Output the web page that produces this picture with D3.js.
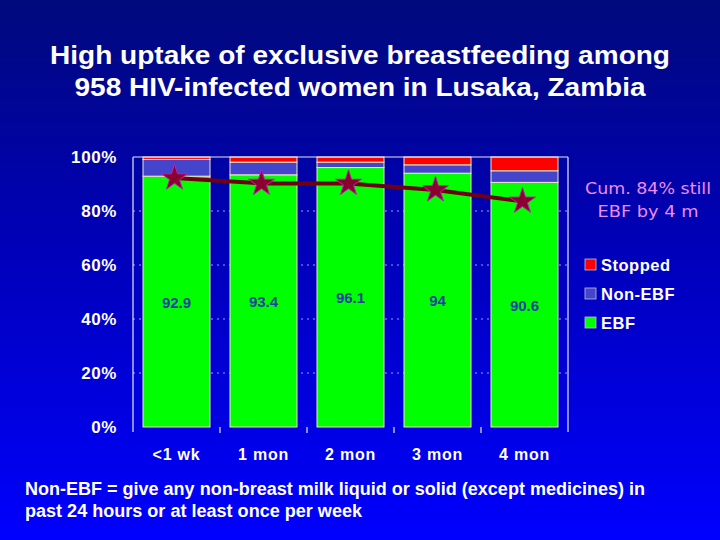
<!DOCTYPE html>
<html><head><meta charset="utf-8">
<script src="https://cdn.jsdelivr.net/npm/d3@7"></script>
<style>body{margin:0;padding:0;overflow:hidden}svg{display:block}</style>
</head><body>
<svg id="chart" width="720" height="540"></svg>
<script>
const categories = ["<1 wk", "1 mon", "2 mon", "3 mon", "4 mon"];
const ebf = [92.9, 93.4, 96.1, 94, 90.6];
const nonEbf = [6.2, 4.7, 2.0, 3.1, 4.3];
const stopped = [0.9, 1.9, 1.9, 2.9, 5.1];
const cumulative = [92.2, 90.2, 90.2, 87.8, 83.6];
const yTicks = [0, 20, 40, 60, 80, 100];
const seriesNames = ["EBF", "Non-EBF", "Stopped"];
const seriesColors = ["#00ff00", "#4444cc", "#ff0000"];

const svg = d3.select("#chart");
const defs = svg.append("defs");
const grad = defs.append("linearGradient").attr("id","bg").attr("x1",0).attr("y1",0).attr("x2",0).attr("y2",1);
grad.append("stop").attr("offset","0%").attr("stop-color","#000a7c");
grad.append("stop").attr("offset","45%").attr("stop-color","#0000b8");
grad.append("stop").attr("offset","100%").attr("stop-color","#0000ff");
svg.append("rect").attr("width",720).attr("height",540).attr("fill","url(#bg)");

const FONT = "Liberation Sans, Arial, sans-serif";

// Title
const title = svg.append("text").attr("text-anchor","middle")
  .attr("font-family",FONT).attr("font-weight","bold")
  .attr("font-size",25).attr("fill","#ffffff");
title.append("tspan").attr("x",360).attr("y",64).attr("textLength",620).attr("lengthAdjust","spacingAndGlyphs")
  .text("High uptake of exclusive breastfeeding among");
title.append("tspan").attr("x",360).attr("y",96).attr("textLength",571).attr("lengthAdjust","spacingAndGlyphs")
  .text("958 HIV-infected women in Lusaka, Zambia");

const pLeft = 133, pRight = 568, pTop = 157, pBottom = 427;
const x = d3.scaleBand().domain(categories).range([pLeft, pRight]).paddingInner(0.23).paddingOuter(0.115);
const y = d3.scaleLinear().domain([0, 100]).range([pBottom, pTop]);

// gridlines
svg.append("g").selectAll("line").data(yTicks.filter(t => t > 0 && t < 100)).join("line")
  .attr("x1", pLeft).attr("x2", pRight).attr("y1", d => y(d)).attr("y2", d => y(d))
  .attr("stroke", "#c8c8ff").attr("stroke-width", 1).attr("stroke-dasharray", "2,4").attr("opacity",0.8);

// stacked bars
const rows = categories.map((c, i) => ({cat: c, EBF: ebf[i], "Non-EBF": nonEbf[i], Stopped: stopped[i]}));
const stack = d3.stack().keys(seriesNames)(rows);
const color = d3.scaleOrdinal().domain(seriesNames).range(seriesColors);
svg.append("g").selectAll("g").data(stack).join("g").attr("fill", d => color(d.key))
  .selectAll("rect").data(d => d).join("rect")
  .attr("x", d => x(d.data.cat)).attr("width", x.bandwidth())
  .attr("y", d => y(Math.min(d[1],100))).attr("height", d => y(d[0]) - y(Math.min(d[1],100)))
  .attr("stroke", "#f0e8c0").attr("stroke-width", 1);

// frame: left axis, top line, right line
const frame = svg.append("g").attr("stroke","#e8e8f0").attr("stroke-width",1.2);
frame.append("line").attr("x1",pLeft).attr("x2",pLeft).attr("y1",pTop).attr("y2",pBottom+5);
frame.append("line").attr("x1",pRight).attr("x2",pRight).attr("y1",pTop).attr("y2",pBottom+5);
frame.append("line").attr("x1",pLeft).attr("x2",pRight).attr("y1",pTop).attr("y2",pTop);

// x ticks between bands
const step = x.step();
svg.append("g").selectAll("line").data(categories.slice(1)).join("line")
  .attr("x1", d => x(d) - x.paddingInner()*step/2).attr("x2", d => x(d) - x.paddingInner()*step/2)
  .attr("y1", pBottom).attr("y2", pBottom+6).attr("stroke","#e8e8f0").attr("stroke-width",1.2);

// y tick labels
svg.append("g").selectAll("text").data(yTicks).join("text")
  .attr("x", 117).attr("y", d => y(d) + 6).attr("text-anchor","end")
  .attr("font-family",FONT).attr("font-weight","bold")
  .attr("font-size",17).attr("letter-spacing",0.6).attr("fill","#ffffff").text(d => d + "%");

// x labels
svg.append("g").selectAll("text").data(categories).join("text")
  .attr("x", d => x(d) + x.bandwidth()/2).attr("y", 460).attr("text-anchor","middle")
  .attr("font-family",FONT).attr("font-weight","bold")
  .attr("font-size",16).attr("letter-spacing",0.8).attr("fill","#ffffff").text(d => d);

// value labels
svg.append("g").selectAll("text").data(rows).join("text")
  .attr("x", d => x(d.cat) + x.bandwidth()/2).attr("y", d => y(d.EBF/2) + 6).attr("text-anchor","middle")
  .attr("font-family",FONT).attr("font-weight","bold")
  .attr("font-size",15).attr("fill","#2040a0").text(d => d.EBF);

// cumulative line
const line = d3.line().x((d,i) => x(categories[i]) + x.bandwidth()/2 - 2).y(d => y(d));
svg.append("path").datum(cumulative).attr("d", line).attr("fill","none")
  .attr("stroke","#700010").attr("stroke-width",4);
const star = d3.symbol().type(d3.symbolStar).size(210);
svg.append("g").selectAll("path").data(cumulative).join("path")
  .attr("transform",(d,i) => `translate(${x(categories[i]) + x.bandwidth()/2 - 2},${y(d)})`)
  .attr("d", star).attr("fill","#8a0030").attr("stroke","#c020b0").attr("stroke-width",1);

// annotation
const ann = svg.append("text").attr("text-anchor","middle")
  .attr("font-family","DejaVu Sans, sans-serif").attr("font-size",16).attr("fill","#f08cf0");
ann.append("tspan").attr("x",648).attr("y",194).attr("textLength",126).attr("lengthAdjust","spacingAndGlyphs").text("Cum. 84% still");
ann.append("tspan").attr("x",648).attr("y",217).attr("textLength",101).attr("lengthAdjust","spacingAndGlyphs").text("EBF by 4 m");

// legend
const legendItems = ["Stopped", "Non-EBF", "EBF"];
const lg = svg.append("g").selectAll("g").data(legendItems).join("g")
  .attr("transform", (d,i) => `translate(585,${259 + i*29})`);
lg.append("rect").attr("width",11).attr("height",11).attr("fill", d => color(d))
  .attr("stroke","#c0c0d0").attr("stroke-width",0.8);
lg.append("text").attr("x",16).attr("y",11.5).attr("font-family",FONT)
  .attr("font-weight","bold").attr("font-size",16.5).attr("letter-spacing",0.5).attr("fill","#ffffff").text(d => d);

// footnote
const foot = svg.append("text").attr("font-family",FONT)
  .attr("font-weight","bold").attr("font-size",18).attr("fill","#ffffff");
foot.append("tspan").attr("x",25).attr("y",495).attr("textLength",620).attr("lengthAdjust","spacingAndGlyphs")
  .text("Non-EBF = give any non-breast milk liquid or solid (except medicines) in");
foot.append("tspan").attr("x",25).attr("y",517).attr("textLength",337).attr("lengthAdjust","spacingAndGlyphs")
  .text("past 24 hours or at least once per week");
</script>
</body></html>
